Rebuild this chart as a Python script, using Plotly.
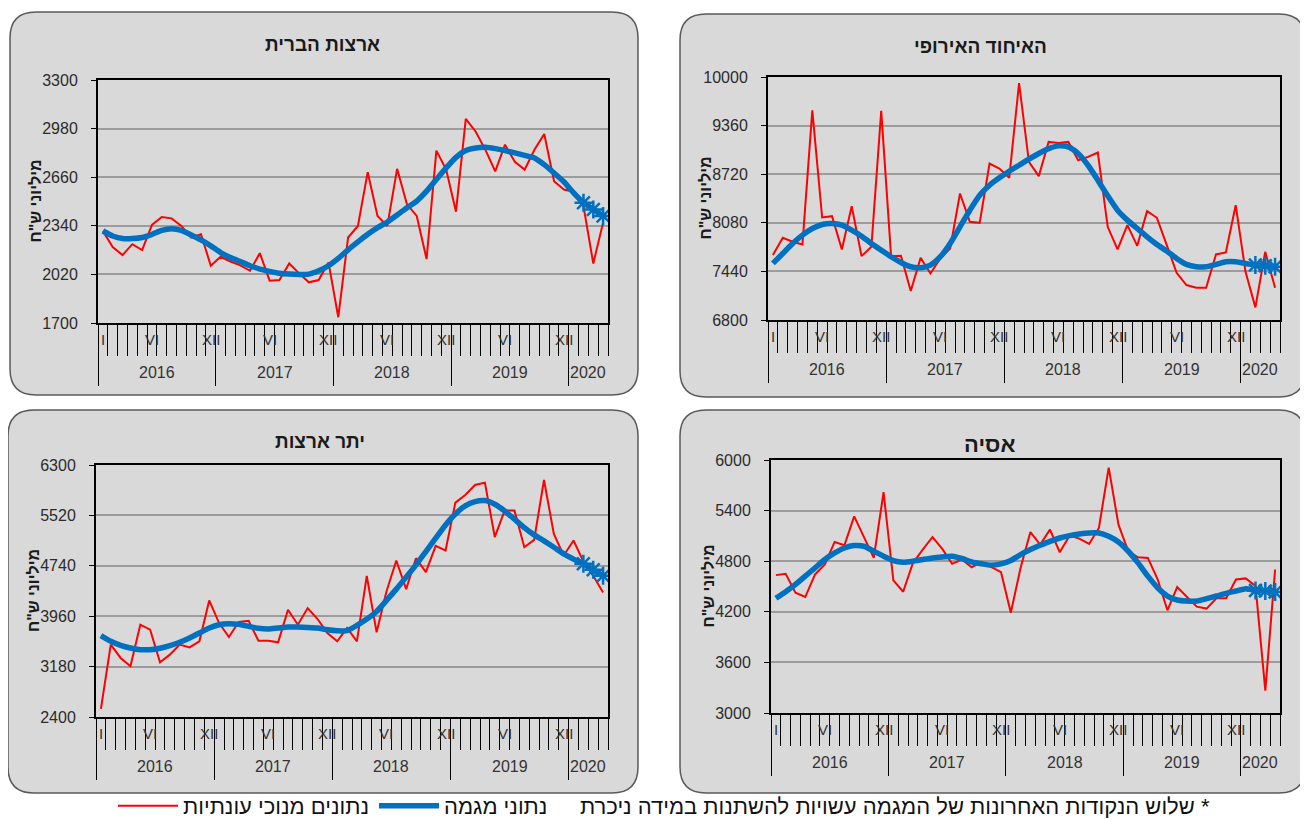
import pandas as pd
import plotly.graph_objects as go

# page geometry (the browser body adds an 8px margin around the figure)
PAGE_W, PAGE_H = 1308, 820
OFF = 8
W, H = PAGE_W - OFF, PAGE_H - OFF

# ---------------- data ----------------
months = pd.date_range("2016-01-01", periods=52, freq="MS")
years = ["2016", "2017", "2018", "2019", "2020"]
month_label_text = ["I", "VI", "XII", "VI", "XII", "VI", "XII", "VI", "XII"]
month_label_dates = ["2016-01", "2016-06", "2016-12", "2017-06", "2017-12",
                     "2018-06", "2018-12", "2019-06", "2019-12"]

us_title = "ארצות הברית"
us_sa = [2305, 2200, 2147, 2219, 2180, 2346, 2398, 2389, 2339, 2263, 2284, 2077,
         2136, 2105, 2080, 2044, 2160, 1979, 1983, 2092, 2027, 1968, 1983, 2099,
         1738, 2263, 2339, 2693, 2405, 2339, 2715, 2481, 2405, 2121, 2835, 2710,
         2433, 3044, 2961, 2840, 2699, 2874, 2761, 2710, 2841, 2944, 2634, 2579,
         2564, 2470, 2092, 2361]
us_trend = [2306, 2273, 2256, 2256, 2263, 2284, 2310, 2321, 2310, 2280, 2247, 2208,
            2164, 2131, 2105, 2077, 2055, 2040, 2027, 2022, 2020, 2022, 2044, 2077,
            2125, 2182, 2234, 2284, 2328, 2365, 2411, 2459, 2503, 2568, 2645, 2721,
            2791, 2835, 2852, 2857, 2848, 2835, 2820, 2804, 2787, 2743, 2688, 2630,
            2557, 2492, 2448, 2405]
us_ticks = [1700, 2020, 2340, 2660, 2980, 3300]

eu_title = "האיחוד האירופי"
eu_sa = [7655, 7883, 7830, 7795, 9562, 8150, 8167, 7729, 8299, 7641, 7764, 9553,
         7641, 7646, 7181, 7620, 7413, 7610, 7740, 8466, 8093, 8080, 8860, 8794,
         8672, 9921, 8882, 8694, 9145, 9132, 9145, 8904, 8948, 9005, 8027, 7729,
         8049, 7777, 8233, 8146, 7786, 7422, 7260, 7225, 7225, 7663, 7690, 8312,
         7435, 6966, 7698, 7225]
eu_trend = [7545, 7676, 7808, 7918, 8005, 8058, 8071, 8049, 7983, 7904, 7808, 7720,
            7633, 7558, 7501, 7488, 7523, 7633, 7808, 8027, 8246, 8444, 8575, 8672,
            8759, 8838, 8917, 8992, 9057, 9093, 9079, 8992, 8838, 8641, 8435, 8246,
            8115, 8005, 7896, 7795, 7707, 7611, 7532, 7501, 7501, 7532, 7567, 7567,
            7545, 7523, 7514, 7501]
eu_ticks = [6800, 7440, 8080, 8720, 9360, 10000]

other_title = "יתר ארצות"
other_sa = [2526, 3520, 3314, 3185, 3828, 3751, 3247, 3365, 3520, 3478, 3571, 4204,
            3854, 3638, 3870, 3890, 3581, 3581, 3556, 4060, 3828, 4086, 3916, 3700,
            3571, 3777, 3571, 4585, 3710, 4343, 4822, 4379, 4858, 4642, 5049, 4977,
            5718, 5837, 5991, 6027, 5183, 5595, 5595, 5028, 5141, 6068, 5234, 4899,
            5131, 4807, 4585, 4328]
other_trend = [3659, 3571, 3509, 3468, 3442, 3442, 3463, 3504, 3556, 3622, 3700, 3777,
               3828, 3844, 3834, 3803, 3772, 3762, 3777, 3792, 3792, 3787, 3777, 3751,
               3736, 3736, 3818, 3916, 4034, 4204, 4379, 4565, 4755, 4961, 5167, 5373,
               5543, 5667, 5734, 5749, 5692, 5589, 5461, 5332, 5219, 5126, 5028, 4925,
               4843, 4771, 4678, 4585]
other_ticks = [2400, 3180, 3960, 4740, 5520, 6300]

asia_title = "אסיה"
asia_sa = [4635, 4651, 4426, 4375, 4643, 4761, 5028, 4989, 5331, 5095, 4839, 5618,
           4572, 4438, 4780, 4938, 5087, 4946, 4769, 4820, 4729, 4792, 4729, 4670,
           4190, 4721, 5146, 4997, 5174, 4906, 5103, 5068, 5005, 5194, 5910, 5233,
           4918, 4847, 4839, 4584, 4218, 4493, 4375, 4261, 4238, 4360, 4360, 4584,
           4596, 4505, 3266, 4702]
asia_trend = [4360, 4438, 4525, 4623, 4721, 4820, 4898, 4957, 4985, 4977, 4918, 4859,
              4808, 4788, 4800, 4820, 4839, 4851, 4859, 4832, 4792, 4769, 4753, 4769,
              4808, 4879, 4938, 4989, 5036, 5075, 5103, 5123, 5135, 5135, 5095, 5028,
              4918, 4780, 4623, 4485, 4387, 4340, 4328, 4328, 4356, 4387, 4419, 4446,
              4474, 4454, 4446, 4434]
asia_ticks = [3000, 3600, 4200, 4800, 5400, 6000]

y_title = 'מיליוני ש"ח'
legend_sa = "נתונים מנוכי עונתיות"
legend_trend = "נתוני מגמה"
footnote = "שלוש הנקודות האחרונות של המגמה עשויות להשתנות במידה ניכרת *"
n_revisable = 3

# ---------------- styling / layout helpers ----------------
RED = "#ff0000"
BLUE = "#0070c0"
FONT = "Liberation Sans, Arial, DejaVu Sans, sans-serif"

x_idx = list(range(len(months)))
month_pos = {d.strftime("%Y-%m"): i for i, d in enumerate(months)}

panels = [
    dict(title=us_title, sa=us_sa, trend=us_trend, ticks=us_ticks,
         box=(10, 12, 638, 395), plot=(98, 80, 608, 323), tx=322, ty=45, tsize=19),
    dict(title=eu_title, sa=eu_sa, trend=eu_trend, ticks=eu_ticks,
         box=(680, 14, 1305, 397), plot=(768, 77, 1280, 320), tx=980, ty=46, tsize=19),
    dict(title=other_title, sa=other_sa, trend=other_trend, ticks=other_ticks,
         box=(8, 410, 638, 793), plot=(96, 465, 608, 717), tx=320, ty=441, tsize=19),
    dict(title=asia_title, sa=asia_sa, trend=asia_trend, ticks=asia_ticks,
         box=(680, 410, 1305, 793), plot=(771, 460, 1280, 713), tx=989, ty=444, tsize=22),
]


def px(x):
    return (x - OFF) / W


def py(y):
    return 1 - (y - OFF) / H


def rounded_path(x0, y0, x1, y1, r):
    pts = [
        f"M{px(x0 + r)},{py(y0)}",
        f"L{px(x1 - r)},{py(y0)}",
        f"Q{px(x1)},{py(y0)} {px(x1)},{py(y0 + r)}",
        f"L{px(x1)},{py(y1 - r)}",
        f"Q{px(x1)},{py(y1)} {px(x1 - r)},{py(y1)}",
        f"L{px(x0 + r)},{py(y1)}",
        f"Q{px(x0)},{py(y1)} {px(x0)},{py(y1 - r)}",
        f"L{px(x0)},{py(y0 + r)}",
        f"Q{px(x0)},{py(y0)} {px(x0 + r)},{py(y0)}",
        "Z",
    ]
    return " ".join(pts)


fig = go.Figure()
shapes = []
annotations = []
year_bounds = [month_pos[f"{y}-01"] - 0.5 for y in years]
year_centers = []
for y in years:
    idx = [i for i, d in enumerate(months) if d.year == int(y)]
    year_centers.append((idx[0] + idx[-1]) / 2)

for k, p in enumerate(panels):
    n = "" if k == 0 else str(k + 1)
    xa, ya = f"x{n}", f"y{n}"
    first = k == 0
    fig.add_trace(go.Scatter(x=x_idx, y=p["sa"], mode="lines", name=legend_sa,
                             line=dict(color=RED, width=2), xaxis=xa, yaxis=ya,
                             showlegend=first, legendrank=1, hoverinfo="skip"))
    fig.add_trace(go.Scatter(x=x_idx, y=p["trend"], mode="lines", name=legend_trend,
                             line=dict(color=BLUE, width=5.5, shape="spline", smoothing=0.6),
                             xaxis=xa, yaxis=ya, showlegend=first, legendrank=2,
                             hoverinfo="skip"))
    fig.add_trace(go.Scatter(x=x_idx[-n_revisable:], y=p["trend"][-n_revisable:],
                             mode="markers", showlegend=False, hoverinfo="skip",
                             marker=dict(symbol="asterisk-open", size=15, color=BLUE,
                                         line=dict(color=BLUE, width=2.5)),
                             xaxis=xa, yaxis=ya))

    l, t, r, b = p["plot"]
    fig.layout[f"xaxis{n}"] = dict(
        domain=[px(l), px(r)], anchor=ya, range=[-0.5, len(months) - 0.5],
        showgrid=False, zeroline=False, showline=True, mirror=True,
        linecolor="black", linewidth=2, showticklabels=False,
        ticks="outside", tickmode="array", tickvals=year_bounds, ticklen=61,
        tickwidth=1.2, tickcolor="black",
        minor=dict(ticks="outside", tickmode="linear", tick0=-0.5, dtick=1,
                   ticklen=31, tickwidth=1.2, tickcolor="black", showgrid=False),
    )
    fig.layout[f"yaxis{n}"] = dict(
        domain=[py(b), py(t)], anchor=xa, range=[p["ticks"][0], p["ticks"][-1]],
        tickmode="array", tickvals=p["ticks"], ticktext=[str(v) for v in p["ticks"]],
        showgrid=True, gridcolor="#9c9c9c", gridwidth=2, zeroline=False,
        showline=True, mirror=True, linecolor="black", linewidth=2,
        ticks="outside", ticklen=5, tickwidth=1.2, tickcolor="black",
        ticklabelstandoff=10,
        tickfont=dict(family=FONT, size=16, color="#2b2b2b"),
    )

    # rotated y-axis title placed next to the tick labels
    annotations.append(dict(text=f"<b>{y_title}</b>", textangle=-90,
                            x=px(l - 63), y=0.5, xref="paper", yref=f"{ya} domain",
                            showarrow=False, xanchor="center", yanchor="middle",
                            font=dict(family=FONT, size=16, color="#1a1a1a")))

    x0, y0, x1, y1 = p["box"]
    shapes.append(dict(type="path", path=rounded_path(x0, y0, x1, y1, 26),
                       xref="paper", yref="paper", fillcolor="#d9d9d9",
                       line=dict(color="#5a5a5a", width=1.5), layer="below"))

    annotations.append(dict(text=f"<b>{p['title']}</b>", x=px(p["tx"]), y=py(p["ty"]),
                            xref="paper", yref="paper", showarrow=False,
                            xanchor="center", yanchor="middle",
                            font=dict(family=FONT, size=p["tsize"], color="#1a1a1a")))
    for yr, c in zip(years, year_centers):
        annotations.append(dict(text=yr, x=c, y=0, xref=xa, yref=f"{ya} domain",
                                yshift=-49, showarrow=False, xanchor="center",
                                yanchor="middle",
                                font=dict(family=FONT, size=16, color="#333333")))
    for txt, d in zip(month_label_text, month_label_dates):
        annotations.append(dict(text=txt, x=month_pos[d], y=0, xref=xa,
                                yref=f"{ya} domain", yshift=-16, showarrow=False,
                                xanchor="center", yanchor="middle",
                                font=dict(family=FONT, size=15, color="#333333")))

annotations.append(dict(text=footnote, x=px(1212), y=py(806), xref="paper", yref="paper",
                        showarrow=False, xanchor="right", yanchor="middle",
                        font=dict(family=FONT, size=22, color="#111111")))

fig.update_layout(
    width=W, height=H, margin=dict(l=0, r=0, t=0, b=0, autoexpand=False),
    paper_bgcolor="white", plot_bgcolor="white",
    shapes=shapes, annotations=annotations,
    showlegend=True,
    legend=dict(orientation="h", x=px(113), y=py(806), xanchor="left", yanchor="middle",
                font=dict(family=FONT, size=22, color="#111111"),
                bgcolor="rgba(0,0,0,0)", itemwidth=60, traceorder="normal"),
    font=dict(family=FONT),
)

fig.write_html("out.html")
